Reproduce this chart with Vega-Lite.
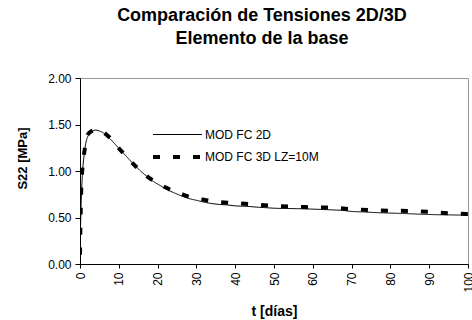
{
  "$schema": "https://vega.github.io/schema/vega-lite/v6.json",
  "width": 388,
  "height": 186,
  "autosize": {"type": "none"},
  "padding": {"left": 80, "top": 78, "right": 4, "bottom": 56},
  "background": "white",
  "title": {
    "text": ["Comparación de Tensiones 2D/3D", "Elemento de la base"],
    "font": "Liberation Sans",
    "fontSize": 18,
    "fontWeight": "bold",
    "color": "black",
    "anchor": "middle",
    "frame": "group",
    "dx": -12,
    "offset": 24,
    "lineHeight": 23
  },
  "config": {
    "view": {"stroke": "#999999", "strokeWidth": 1},
    "axis": {
      "grid": false,
      "domainColor": "black",
      "tickColor": "black",
      "labelColor": "black",
      "titleColor": "black",
      "labelFont": "Liberation Sans",
      "titleFont": "Liberation Sans",
      "labelFontSize": 12,
      "titleFontWeight": "bold"
    }
  },
  "data": {
    "values": [
      {"t": 0, "v": 0.15, "s": "MOD FC 2D"},
      {"t": 0.3, "v": 0.65, "s": "MOD FC 2D"},
      {"t": 0.6, "v": 0.95, "s": "MOD FC 2D"},
      {"t": 1, "v": 1.15, "s": "MOD FC 2D"},
      {"t": 1.5, "v": 1.30, "s": "MOD FC 2D"},
      {"t": 2, "v": 1.37, "s": "MOD FC 2D"},
      {"t": 3, "v": 1.42, "s": "MOD FC 2D"},
      {"t": 4, "v": 1.44, "s": "MOD FC 2D"},
      {"t": 5, "v": 1.43, "s": "MOD FC 2D"},
      {"t": 6, "v": 1.41, "s": "MOD FC 2D"},
      {"t": 7, "v": 1.375, "s": "MOD FC 2D"},
      {"t": 8, "v": 1.335, "s": "MOD FC 2D"},
      {"t": 9, "v": 1.29, "s": "MOD FC 2D"},
      {"t": 10, "v": 1.245, "s": "MOD FC 2D"},
      {"t": 11, "v": 1.2, "s": "MOD FC 2D"},
      {"t": 12, "v": 1.155, "s": "MOD FC 2D"},
      {"t": 13, "v": 1.11, "s": "MOD FC 2D"},
      {"t": 14, "v": 1.065, "s": "MOD FC 2D"},
      {"t": 15, "v": 1.025, "s": "MOD FC 2D"},
      {"t": 16, "v": 0.985, "s": "MOD FC 2D"},
      {"t": 17, "v": 0.95, "s": "MOD FC 2D"},
      {"t": 18, "v": 0.915, "s": "MOD FC 2D"},
      {"t": 19, "v": 0.885, "s": "MOD FC 2D"},
      {"t": 20, "v": 0.86, "s": "MOD FC 2D"},
      {"t": 22, "v": 0.81, "s": "MOD FC 2D"},
      {"t": 24, "v": 0.77, "s": "MOD FC 2D"},
      {"t": 26, "v": 0.735, "s": "MOD FC 2D"},
      {"t": 28, "v": 0.705, "s": "MOD FC 2D"},
      {"t": 30, "v": 0.685, "s": "MOD FC 2D"},
      {"t": 32, "v": 0.665, "s": "MOD FC 2D"},
      {"t": 34, "v": 0.65, "s": "MOD FC 2D"},
      {"t": 36, "v": 0.64, "s": "MOD FC 2D"},
      {"t": 38, "v": 0.635, "s": "MOD FC 2D"},
      {"t": 40, "v": 0.625, "s": "MOD FC 2D"},
      {"t": 43, "v": 0.62, "s": "MOD FC 2D"},
      {"t": 46, "v": 0.61, "s": "MOD FC 2D"},
      {"t": 48, "v": 0.605, "s": "MOD FC 2D"},
      {"t": 50, "v": 0.60, "s": "MOD FC 2D"},
      {"t": 53, "v": 0.597, "s": "MOD FC 2D"},
      {"t": 56, "v": 0.595, "s": "MOD FC 2D"},
      {"t": 60, "v": 0.59, "s": "MOD FC 2D"},
      {"t": 63, "v": 0.585, "s": "MOD FC 2D"},
      {"t": 66, "v": 0.58, "s": "MOD FC 2D"},
      {"t": 68, "v": 0.575, "s": "MOD FC 2D"},
      {"t": 70, "v": 0.565, "s": "MOD FC 2D"},
      {"t": 73, "v": 0.56, "s": "MOD FC 2D"},
      {"t": 76, "v": 0.553, "s": "MOD FC 2D"},
      {"t": 78, "v": 0.55, "s": "MOD FC 2D"},
      {"t": 82, "v": 0.545, "s": "MOD FC 2D"},
      {"t": 85, "v": 0.54, "s": "MOD FC 2D"},
      {"t": 88, "v": 0.535, "s": "MOD FC 2D"},
      {"t": 92, "v": 0.53, "s": "MOD FC 2D"},
      {"t": 95, "v": 0.528, "s": "MOD FC 2D"},
      {"t": 100, "v": 0.525, "s": "MOD FC 2D"},
      {"t": 0, "v": 0.10, "s": "MOD FC 3D LZ=10M"},
      {"t": 0.15, "v": 0.5, "s": "MOD FC 3D LZ=10M"},
      {"t": 0.35, "v": 0.85, "s": "MOD FC 3D LZ=10M"},
      {"t": 0.6, "v": 1.02, "s": "MOD FC 3D LZ=10M"},
      {"t": 1, "v": 1.17, "s": "MOD FC 3D LZ=10M"},
      {"t": 1.5, "v": 1.30, "s": "MOD FC 3D LZ=10M"},
      {"t": 2, "v": 1.39, "s": "MOD FC 3D LZ=10M"},
      {"t": 3, "v": 1.43, "s": "MOD FC 3D LZ=10M"},
      {"t": 4, "v": 1.445, "s": "MOD FC 3D LZ=10M"},
      {"t": 5, "v": 1.435, "s": "MOD FC 3D LZ=10M"},
      {"t": 6, "v": 1.415, "s": "MOD FC 3D LZ=10M"},
      {"t": 7, "v": 1.385, "s": "MOD FC 3D LZ=10M"},
      {"t": 8, "v": 1.345, "s": "MOD FC 3D LZ=10M"},
      {"t": 9, "v": 1.295, "s": "MOD FC 3D LZ=10M"},
      {"t": 10, "v": 1.245, "s": "MOD FC 3D LZ=10M"},
      {"t": 12, "v": 1.155, "s": "MOD FC 3D LZ=10M"},
      {"t": 14, "v": 1.065, "s": "MOD FC 3D LZ=10M"},
      {"t": 16, "v": 0.99, "s": "MOD FC 3D LZ=10M"},
      {"t": 18, "v": 0.92, "s": "MOD FC 3D LZ=10M"},
      {"t": 20, "v": 0.87, "s": "MOD FC 3D LZ=10M"},
      {"t": 22, "v": 0.825, "s": "MOD FC 3D LZ=10M"},
      {"t": 24, "v": 0.785, "s": "MOD FC 3D LZ=10M"},
      {"t": 26, "v": 0.755, "s": "MOD FC 3D LZ=10M"},
      {"t": 28, "v": 0.725, "s": "MOD FC 3D LZ=10M"},
      {"t": 30, "v": 0.705, "s": "MOD FC 3D LZ=10M"},
      {"t": 32, "v": 0.69, "s": "MOD FC 3D LZ=10M"},
      {"t": 35, "v": 0.67, "s": "MOD FC 3D LZ=10M"},
      {"t": 40, "v": 0.655, "s": "MOD FC 3D LZ=10M"},
      {"t": 45, "v": 0.64, "s": "MOD FC 3D LZ=10M"},
      {"t": 50, "v": 0.625, "s": "MOD FC 3D LZ=10M"},
      {"t": 55, "v": 0.615, "s": "MOD FC 3D LZ=10M"},
      {"t": 60, "v": 0.61, "s": "MOD FC 3D LZ=10M"},
      {"t": 65, "v": 0.605, "s": "MOD FC 3D LZ=10M"},
      {"t": 70, "v": 0.59, "s": "MOD FC 3D LZ=10M"},
      {"t": 75, "v": 0.58, "s": "MOD FC 3D LZ=10M"},
      {"t": 80, "v": 0.573, "s": "MOD FC 3D LZ=10M"},
      {"t": 85, "v": 0.57, "s": "MOD FC 3D LZ=10M"},
      {"t": 90, "v": 0.56, "s": "MOD FC 3D LZ=10M"},
      {"t": 95, "v": 0.545, "s": "MOD FC 3D LZ=10M"},
      {"t": 100, "v": 0.537, "s": "MOD FC 3D LZ=10M"}
    ]
  },
  "mark": {"type": "line", "color": "black", "interpolate": "monotone", "strokeCap": "butt", "clip": true},
  "encoding": {
    "x": {
      "field": "t",
      "type": "quantitative",
      "scale": {"domain": [0, 100], "nice": false},
      "axis": {
        "values": [0, 10, 20, 30, 40, 50, 60, 70, 80, 90, 100],
        "labelAngle": 270,
        "tickSize": 4,
        "labelPadding": 4,
        "title": "t [días]",
        "titleFontSize": 14,
        "titleBaseline": "middle",
        "titleY": 47
      }
    },
    "y": {
      "field": "v",
      "type": "quantitative",
      "scale": {"domain": [0, 2], "nice": false},
      "axis": {
        "values": [0, 0.5, 1, 1.5, 2],
        "format": ".2f",
        "tickSize": 5,
        "labelPadding": 4,
        "title": "S22 [MPa]",
        "titleFontSize": 13,
        "titleAngle": 270,
        "titleAlign": "center",
        "titleBaseline": "middle",
        "titleX": -58,
        "titleY": 80
      }
    },
    "strokeDash": {
      "field": "s",
      "type": "nominal",
      "scale": {"domain": ["MOD FC 2D", "MOD FC 3D LZ=10M"], "range": [[1, 0], [7, 13]]},
      "legend": {
        "title": null,
        "orient": "none",
        "legendX": 71,
        "legendY": 46,
        "symbolType": "M-1,0H3.9",
        "symbolSize": 400,
        "symbolStrokeColor": "black",
        "labelFont": "Liberation Sans",
        "labelFontSize": 12,
        "labelColor": "black",
        "labelOffset": 30,
        "rowPadding": 4
      }
    },
    "strokeWidth": {
      "field": "s",
      "type": "nominal",
      "scale": {"domain": ["MOD FC 2D", "MOD FC 3D LZ=10M"], "range": [1, 4]},
      "legend": null
    }
  }
}
